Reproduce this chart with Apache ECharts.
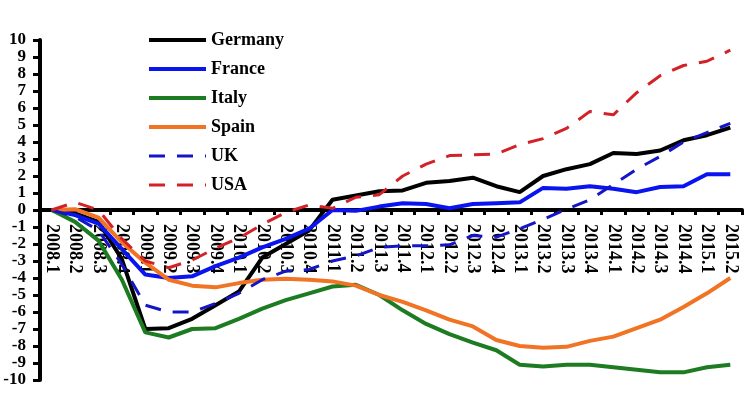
<!DOCTYPE html>
<html>
<head>
<meta charset="utf-8">
<script src="https://cdn.jsdelivr.net/npm/echarts@6/dist/echarts.min.js"></script>
<style>
html,body{margin:0;padding:0;background:#fff;}
#chart{width:750px;height:396px;}
</style>
</head>
<body>
<div id="chart"></div>
<script>
var categories = ['2008.1','2008.2','2008.3','2008.4','2009.1','2009.2','2009.3','2009.4',
  '2010.1','2010.2','2010.3','2010.4','2011.1','2011.2','2011.3','2011.4',
  '2012.1','2012.2','2012.3','2012.4','2013.1','2013.2','2013.3','2013.4',
  '2014.1','2014.2','2014.3','2014.4','2015.1','2015.2'];
var germany = [0, -0.2, -0.7, -2.9, -7.0, -6.95, -6.4, -5.6, -4.8, -2.8, -2.0, -1.2, 0.6, 0.85, 1.1, 1.15, 1.6, 1.7, 1.9, 1.4, 1.05, 2.0, 2.4, 2.7, 3.35, 3.3, 3.5, 4.1, 4.4, 4.85];
var france = [0, -0.3, -0.8, -2.3, -3.8, -4.0, -3.9, -3.3, -2.8, -2.2, -1.7, -1.1, 0, -0.05, 0.2, 0.4, 0.35, 0.1, 0.35, 0.4, 0.45, 1.3, 1.25, 1.4, 1.25, 1.05, 1.35, 1.4, 2.1, 2.1];
var italy = [0, -0.7, -1.8, -4.1, -7.2, -7.5, -7.0, -6.95, -6.4, -5.8, -5.3, -4.9, -4.5, -4.4, -5.0, -5.9, -6.7, -7.3, -7.8, -8.25, -9.1, -9.2, -9.1, -9.1, -9.25, -9.4, -9.55, -9.55, -9.25, -9.1];
var spain = [0, 0.05, -0.45, -1.9, -3.1, -4.1, -4.45, -4.55, -4.3, -4.1, -4.05, -4.1, -4.2, -4.45, -5.0, -5.4, -5.9, -6.45, -6.85, -7.65, -8.0, -8.1, -8.05, -7.7, -7.45, -6.95, -6.45, -5.7, -4.9, -4.0];
var uk = [0, -0.4, -1.2, -3.2, -5.6, -6.0, -6.0, -5.5, -4.9, -4.1, -3.6, -3.5, -3.0, -2.7, -2.2, -2.1, -2.1, -2.05, -1.5, -1.6, -1.1, -0.55, 0.05, 0.6, 1.5, 2.4, 3.15, 4.0, 4.55, 5.1];
var usa = [0, 0.45, 0.0, -1.7, -3.0, -3.4, -2.95, -2.25, -1.65, -0.85, -0.15, 0.3, 0.1, 0.75, 0.9, 2.0, 2.7, 3.2, 3.25, 3.3, 3.85, 4.2, 4.8, 5.8, 5.6, 6.9, 7.9, 8.5, 8.75, 9.4];
var yTicks = {min: -10, max: 10, interval: 1};

var FONT = '"Liberation Serif", "Times New Roman", serif';
function mk(name, data, color, dashed) {
  return {
    name: name, type: 'line', data: data, symbol: 'none', smooth: false,
    xAxisIndex: 0, yAxisIndex: 0,
    lineStyle: {color: color, width: dashed ? 3 : 4, type: dashed ? [16, 12] : 'solid'},
    itemStyle: {color: color},
    emphasis: {disabled: true}
  };
}
function lg(name, dashed) {
  return {name: name, lineStyle: {width: dashed ? 3 : 4}, itemStyle: {opacity: 0}};
}
var chart = echarts.init(document.getElementById('chart'), null, {renderer: 'canvas'});
chart.setOption({
  animation: false,
  backgroundColor: '#ffffff',
  grid: [
    {left: 40, right: 8, top: 40, bottom: 16, containLabel: false, outerBoundsMode: 'none'},
    {left: 40, right: 8, top: 40, height: 170, containLabel: false, outerBoundsMode: 'none'}
  ],
  legend: {
    orient: 'vertical', left: 142, top: 26, itemWidth: 57, itemHeight: 14, itemGap: 11,
    selectedMode: false,
    itemStyle: {opacity: 0},
    textStyle: {fontFamily: FONT, fontWeight: 'bold', fontSize: 18, lineHeight: 18, color: '#000'},
    data: [lg('Germany'), lg('France'), lg('Italy'), lg('Spain'), lg('UK', true), lg('USA', true)]
  },
  xAxis: [
    {
      type: 'category', data: categories, boundaryGap: true, gridIndex: 0, show: false
    },
    {
      type: 'category', data: categories, boundaryGap: true, gridIndex: 1, position: 'bottom',
      axisLine: {onZero: false, lineStyle: {color: '#000', width: 4}},
      axisTick: {show: true, inside: false, length: 5, lineStyle: {color: '#000', width: 3}},
      axisLabel: {interval: 0, rotate: -90, margin: 14, align: 'left', verticalAlign: 'middle',
        hideOverlap: false, alignMinLabel: 'left', alignMaxLabel: 'left',
        fontFamily: FONT, fontWeight: 'bold', fontSize: 18, color: '#000'},
      splitLine: {show: false}
    }
  ],
  yAxis: [
    {
      type: 'value', gridIndex: 0, min: yTicks.min, max: yTicks.max, interval: yTicks.interval,
      axisLine: {show: true, onZero: false, lineStyle: {color: '#000', width: 4}},
      axisTick: {show: true, length: 7, lineStyle: {color: '#000', width: 3}},
      axisLabel: {margin: 14, hideOverlap: false, showMinLabel: true, showMaxLabel: true, fontFamily: FONT, fontWeight: 'bold', fontSize: 17, lineHeight: 12, color: '#000'},
      splitLine: {show: false}
    },
    {
      type: 'value', gridIndex: 1, min: 0, max: yTicks.max, show: false
    }
  ],
  series: [
    mk('Germany', germany, '#000000', false),
    mk('France', france, '#0a14ee', false),
    mk('Italy', italy, '#1d7b22', false),
    mk('Spain', spain, '#f07424', false),
    mk('UK', uk, '#1515c8', true),
    mk('USA', usa, '#d22228', true)
  ]
});
</script>
</body>
</html>
